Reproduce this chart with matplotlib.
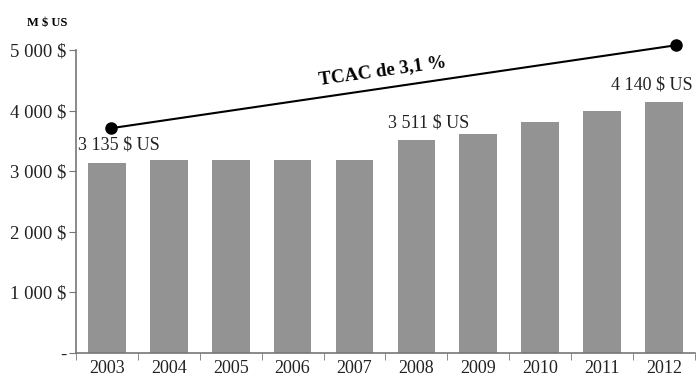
import matplotlib
matplotlib.use('Agg')
import matplotlib.pyplot as plt
import numpy as np

years = ['2003', '2004', '2005', '2006', '2007', '2008', '2009', '2010', '2011', '2012']
values = [3135, 3185, 3180, 3180, 3180, 3511, 3620, 3805, 3993, 4140]
y_ticks = [0, 1000, 2000, 3000, 4000, 5000]
y_labels = ['-', '1 000 $', '2 000 $', '3 000 $', '4 000 $', '5 000 $']
value_labels = {0: '3 135 $ US', 5: '3 511 $ US', 9: '4 140 $ US'}
# trend line drawn above the bars
trend_x = [0.07, 9.2]
trend_y = [3710, 5080]
trend_text = 'TCAC de 3,1 %'

plt.rcParams['font.family'] = ['Liberation Serif', 'DejaVu Serif']

fig = plt.figure(figsize=(6.96, 3.79), dpi=100)
ax = fig.add_axes([0.109, 0.0686, 0.8896, 0.7994])

x = np.arange(len(years))
ax.bar(x, values, width=0.61, color='#939393')

ax.set_xlim(-0.5, len(years) - 0.5)
ax.set_ylim(0, 5000)

ax.set_yticks(y_ticks)
ax.set_yticklabels(y_labels, fontsize=13.5, color='#222222')
ax.set_xticks(x)
ax.set_xticklabels(years, fontsize=13, color='#222222')
ax.set_xticks(np.arange(-0.5, len(years)), minor=True)
ax.tick_params(axis='x', which='major', length=0, pad=5)
ax.tick_params(axis='x', which='minor', length=5, color='#777777')
ax.tick_params(axis='y', length=5, color='#777777', pad=2)

for s in ['top', 'right']:
    ax.spines[s].set_visible(False)
for s in ['left', 'bottom']:
    ax.spines[s].set_color('#777777')
    ax.spines[s].set_linewidth(1.2)

# keep the last label inside the figure
for i, txt in value_labels.items():
    ax.text(min(i + 0.2, len(years) - 1.2), values[i] + 150, txt, ha='center',
            va='bottom', fontsize=13, color='#222222')

ax.plot(trend_x, trend_y, color='black', lw=1.5, marker='o', ms=8, clip_on=False)
ax.text(4.45, 4660, trend_text, ha='center', va='center', rotation=8,
        fontsize=13.5, fontweight='bold')

fig.text(0.068, 0.94, 'M $ US', ha='center', va='center', fontsize=9, fontweight='bold')

plt.savefig('out.png', dpi=100)
plt.close(fig)
